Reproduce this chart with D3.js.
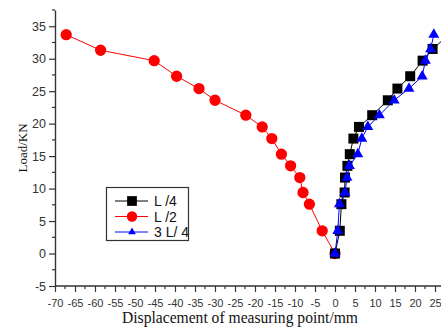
<!DOCTYPE html>
<html>
<head>
<meta charset="utf-8">
<script src="https://cdn.jsdelivr.net/npm/d3@7"></script>
<style>
  html, body { margin: 0; padding: 0; background: #fff; }
  svg { display: block; }
</style>
</head>
<body>
<svg id="chart" width="441" height="333"></svg>
<script>
// Load levels (kN) and displacements (mm) at the three measuring points
const loadsL4 = [0, 3.5, 7.6, 9.4, 11.7, 13.5, 15.3, 17.7, 19.5, 21.3, 23.6, 25.4, 27.3, 29.7, 31.5, 33.7];
const dispL4  = [0, 1.2, 1.6, 2.4, 2.5, 3.1, 3.7, 4.6, 6.0, 9.3, 13.2, 15.6, 18.8, 21.9, 24.4, 28.5];

const loadsL2 = [33.7, 31.3, 29.7, 27.3, 25.4, 23.6, 21.3, 19.5, 17.7, 15.3, 13.5, 11.7, 9.4, 7.6, 3.5, 0];
const dispL2  = [-67.2, -58.6, -45.2, -39.6, -34.0, -30.0, -22.3, -18.2, -15.8, -13.4, -11.1, -8.8, -8.0, -6.4, -3.2, 0];

const loads3L4 = [0, 3.5, 7.6, 9.4, 11.7, 13.5, 15.3, 17.7, 19.5, 21.3, 23.6, 25.4, 27.3, 29.7, 31.5, 33.7];
const disp3L4  = [0, 0.7, 1.1, 2.5, 3.0, 3.6, 5.7, 6.7, 8.2, 11.1, 14.8, 18.5, 21.8, 22.6, 23.9, 24.7];

const xTicks = [-70, -65, -60, -55, -50, -45, -40, -35, -30, -25, -20, -15, -10, -5, 0, 5, 10, 15, 20, 25];
const yTicks = [-5, 0, 5, 10, 15, 20, 25, 30, 35];
const seriesNames = ["L /4", "L /2", "3 L/ 4"];

const svg = d3.select("#chart");

const x = d3.scaleLinear().domain([-70, 26]).range([55, 439]);
const y = d3.scaleLinear().domain([-5, 37.5]).range([286, 10]);

const axisColor = "#333";

// minor ticks every 2.5
const xMinor = d3.range(-70, 26, 2.5).filter(v => !xTicks.includes(v));
const yMinor = d3.range(-5, 37.6, 2.5).filter(v => !yTicks.includes(v));

// x axis
const gx = svg.append("g").attr("transform", `translate(0,${y(-5)})`);
gx.call(d3.axisBottom(x).tickValues(xTicks).tickSize(6).tickPadding(7).tickFormat(d => String(d)).tickSizeOuter(0));
gx.selectAll(".tick line").attr("stroke", axisColor).attr("stroke-width", 1.2);
gx.select(".domain").attr("d", `M${x(-70)},0H441`).attr("stroke", axisColor).attr("stroke-width", 1.4);
gx.selectAll("text").attr("font-family", "Liberation Sans, Arial, sans-serif")
  .attr("font-size", 11).attr("fill", "#333");
gx.selectAll(".minor").data(xMinor).enter().append("line")
  .attr("x1", d => x(d)).attr("x2", d => x(d)).attr("y1", 0).attr("y2", 3)
  .attr("stroke", axisColor).attr("stroke-width", 1.2);

// y axis
const gy = svg.append("g").attr("transform", `translate(${x(-70)},0)`);
gy.call(d3.axisLeft(y).tickValues(yTicks).tickSize(6).tickPadding(3).tickFormat(d => String(d)).tickSizeOuter(0));
gy.selectAll(".tick line").attr("stroke", axisColor).attr("stroke-width", 1.2);
gy.select(".domain").attr("stroke", axisColor).attr("stroke-width", 1.4);
gy.selectAll("text").attr("font-family", "Liberation Sans, Arial, sans-serif")
  .attr("font-size", 12.5).attr("fill", "#333");
gy.selectAll(".minor").data(yMinor).enter().append("line")
  .attr("x1", -3).attr("x2", 0).attr("y1", d => y(d)).attr("y2", d => y(d))
  .attr("stroke", axisColor).attr("stroke-width", 1.2);

// axis titles
svg.append("text")
  .attr("x", 240).attr("y", 323)
  .attr("text-anchor", "middle")
  .attr("font-family", "Liberation Serif, Times New Roman, serif")
  .attr("font-size", 16.5).attr("fill", "#111")
  .attr("textLength", 236).attr("lengthAdjust", "spacingAndGlyphs")
  .text("Displacement of measuring point/mm");

svg.append("text")
  .attr("transform", "translate(27,148) rotate(-90)")
  .attr("text-anchor", "middle")
  .attr("font-family", "Liberation Serif, Times New Roman, serif")
  .attr("font-size", 13).attr("fill", "#111")
  .text("Load/KN");

// series, drawn in stacking order
const series = [
  { name: seriesNames[1], xs: dispL2,  ys: loadsL2,  color: "#ff0000", symbol: d3.symbolCircle,   size: 100, legendSize: 85 },
  { name: seriesNames[0], xs: dispL4,  ys: loadsL4,  color: "#000000", symbol: d3.symbolSquare,   size: 100, legendSize: 95 },
  { name: seriesNames[2], xs: disp3L4, ys: loads3L4, color: "#0000ff", symbol: d3.symbolTriangle, size: 52,  legendSize: 26 }
];

const line = d3.line().x(d => x(d[0])).y(d => y(d[1]));

series.forEach(s => {
  const pts = s.xs.map((v, i) => [v, s.ys[i]]);
  const g = svg.append("g");
  g.append("path").datum(pts)
    .attr("d", line).attr("fill", "none")
    .attr("stroke", s.color).attr("stroke-width", 1);
  g.selectAll("path.m").data(pts).enter().append("path")
    .attr("class", "m")
    .attr("transform", d => `translate(${x(d[0])},${y(d[1])})`)
    .attr("d", d3.symbol().type(s.symbol).size(s.size))
    .attr("fill", s.color);
});

// legend
const legendOrder = [series[1], series[0], series[2]];
const lg = svg.append("g");
lg.append("rect").attr("x", 106.5).attr("y", 187.5).attr("width", 82).attr("height", 53)
  .attr("fill", "#fff").attr("stroke", "#333").attr("stroke-width", 1.2);
legendOrder.forEach((s, i) => {
  const cy = 201 + i * 15.5;
  lg.append("line").attr("x1", 115).attr("x2", 148).attr("y1", cy).attr("y2", cy)
    .attr("stroke", s.color).attr("stroke-width", 1);
  lg.append("path").attr("transform", `translate(132,${cy})`)
    .attr("d", d3.symbol().type(s.symbol).size(s.legendSize))
    .attr("fill", s.color);
  lg.append("text").attr("x", 154).attr("y", cy + 5)
    .attr("font-family", "Liberation Sans, Arial, sans-serif")
    .attr("font-size", 14).attr("fill", "#111")
    .text(s.name);
});
</script>
</body>
</html>
